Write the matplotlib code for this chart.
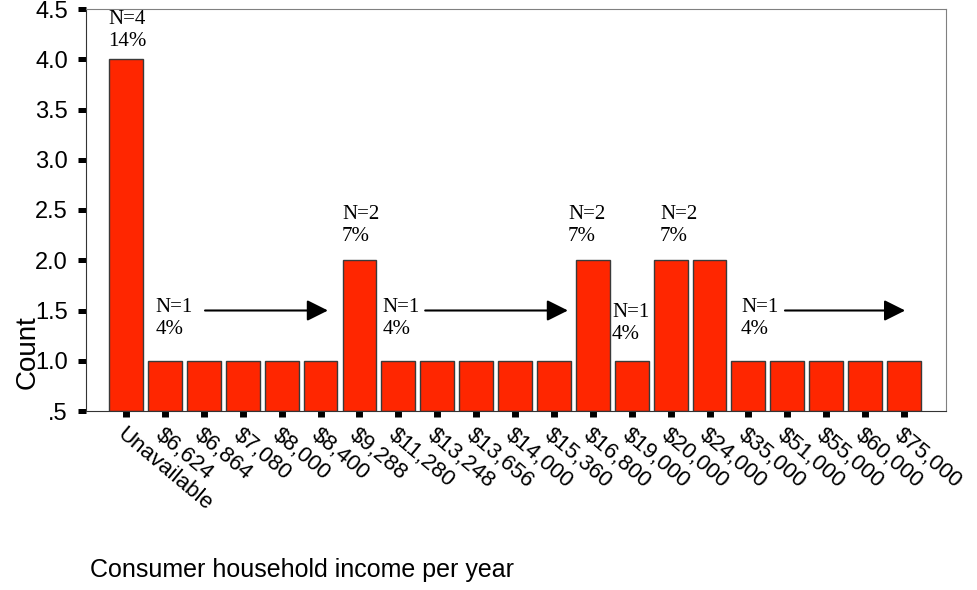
import matplotlib
matplotlib.use("Agg")
import matplotlib.pyplot as plt

# income categories and counts
categories = ["Unavailable", "$6,624", "$6,864", "$7,080", "$8,000", "$8,400",
              "$9,288", "$11,280", "$13,248", "$13,656", "$14,000", "$15,360",
              "$16,800", "$19,000", "$20,000", "$24,000", "$35,000", "$51,000",
              "$55,000", "$60,000", "$75,000"]
counts = [4, 1, 1, 1, 1, 1, 2, 1, 1, 1, 1, 1, 2, 1, 2, 2, 1, 1, 1, 1, 1]

y_ticks = [0.5, 1.0, 1.5, 2.0, 2.5, 3.0, 3.5, 4.0, 4.5]
y_ticklabels = [".5", "1.0", "1.5", "2.0", "2.5", "3.0", "3.5", "4.0", "4.5"]

# annotation labels (text, x, y top)
note_text = ["N=4\n14%", "N=1\n4%", "N=2\n7%", "N=1\n4%", "N=2\n7%",
             "N=1\n4%", "N=2\n7%", "N=1\n4%"]
note_x = [-0.46, 0.75, 5.55, 6.6, 11.36, 12.49, 13.73, 15.81]
note_y = [4.49, 1.62, 2.55, 1.62, 2.55, 1.57, 2.55, 1.62]

# arrows (start x, end x, y)
arrow_x0 = [2.03, 7.69, 16.94]
arrow_x1 = [5.19, 11.36, 20.03]
arrow_y = [1.5, 1.5, 1.5]

sans = ["Liberation Sans", "DejaVu Sans"]
serif = ["Liberation Serif", "DejaVu Serif"]

fig = plt.figure(figsize=(9.77, 5.90), dpi=100)
ax = fig.add_axes([86 / 977, 1 - 411 / 590, (946 - 86) / 977, (411 - 9) / 590])

x = list(range(len(categories)))
ax.bar(x, [c - 0.5 for c in counts], bottom=0.5, width=0.87,
       color="#ff2600", edgecolor="#3a3a3a", linewidth=1.0)

ax.set_xlim(-1.03, 21.08)
ax.set_ylim(0.5, 4.5)
ax.set_yticks(y_ticks)
ax.set_yticklabels(y_ticklabels, fontsize=17, family=sans)
ax.set_xticks(x)
ax.set_xticklabels(categories, fontsize=16, family=sans, rotation=-40,
                   ha="left", va="top", rotation_mode="anchor")
ax.tick_params(axis="y", length=6, width=3.6, pad=7, color="black")
ax.tick_params(axis="x", length=4.5, width=5, pad=5, color="black")

for s in ["top", "right"]:
    ax.spines[s].set_color("#808080")
for s in ["left", "bottom"]:
    ax.spines[s].set_color("#333333")

for t, tx, ty in zip(note_text, note_x, note_y):
    ax.text(tx, ty, t, ha="left", va="top", fontsize=15, family=serif,
            linespacing=1.2)

for x0, x1, ay in zip(arrow_x0, arrow_x1, arrow_y):
    ax.annotate("", xy=(x1, ay), xytext=(x0, ay),
                arrowprops=dict(arrowstyle="-|>", color="black", lw=1.5,
                                mutation_scale=32, shrinkA=0, shrinkB=0))

fig.text(28 / 977, 1 - 352 / 590, "Count", rotation=90, fontsize=20,
         family=sans, ha="center", va="center")
fig.text(90 / 977, 1 - 570 / 590, "Consumer household income per year",
         fontsize=18, family=sans, ha="left", va="center")

fig.savefig("out.png", dpi=100)
